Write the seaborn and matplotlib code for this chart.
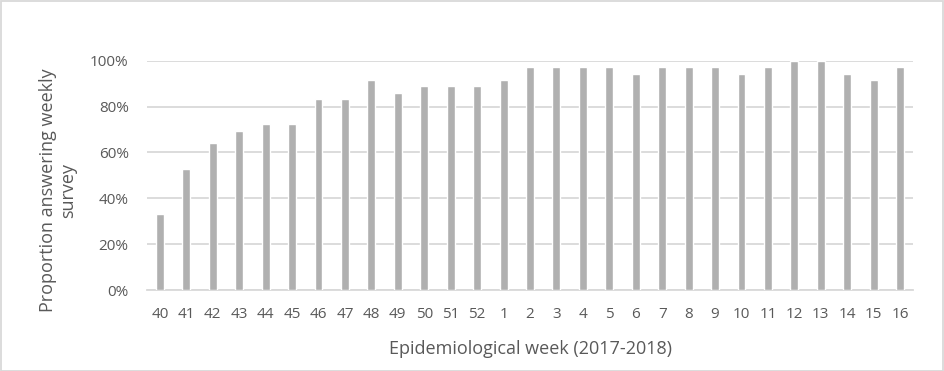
import matplotlib
matplotlib.use("Agg")
import matplotlib.pyplot as plt
import seaborn as sns
import pandas as pd
import numpy as np
from matplotlib.ticker import PercentFormatter, FixedLocator
from matplotlib.patches import Rectangle

weeks = ["40", "41", "42", "43", "44", "45", "46", "47", "48", "49", "50", "51", "52",
         "1", "2", "3", "4", "5", "6", "7", "8", "9", "10", "11", "12", "13", "14", "15", "16"]
proportion = [0.333, 0.528, 0.639, 0.694, 0.722, 0.722, 0.833, 0.833, 0.917, 0.861, 0.889, 0.889, 0.889,
              0.917, 0.972, 0.972, 0.972, 0.972, 0.944, 0.972, 0.972, 0.972, 0.944, 0.972, 1.0, 1.0, 0.944, 0.917, 0.972]
y_ticks = [0, 0.2, 0.4, 0.6, 0.8, 1.0]
x_label = "Epidemiological week (2017-2018)"
y_label = "Proportion answering weekly\nsurvey"

sns.set_theme(style="white")
plt.rcParams['font.family'] = ['Open Sans', 'DejaVu Sans']

text_color = "#595959"
grid_color = "#D9D9D9"
bar_color = "#B0B0B0"

df = pd.DataFrame({"week": weeks, "prop": proportion})

fig = plt.figure(figsize=(9.44, 3.71), dpi=100)
ax = fig.add_axes([146.7 / 944, 1 - 290 / 371, (913.3 - 146.7) / 944, (290 - 60.7) / 371])

sns.barplot(data=df, x="week", y="prop", order=weeks, color=bar_color, width=0.3,
            saturation=1, ax=ax, zorder=3)

ax.set_ylim(0, 1.0)
ax.set_xlim(-0.5, len(weeks) - 0.5)
ax.set_yticks(y_ticks)
ax.yaxis.set_major_formatter(PercentFormatter(1.0, decimals=0))
ax.yaxis.grid(True, color=grid_color, linewidth=1.3, zorder=0)
ax.set_axisbelow(True)

for s in ["top", "right", "left"]:
    ax.spines[s].set_visible(False)
ax.spines["bottom"].set_color(grid_color)
ax.spines["bottom"].set_linewidth(1.3)
ax.spines["bottom"].set_zorder(1)

ax.tick_params(axis="y", length=0, pad=13, labelsize=11, labelcolor=text_color)
ax.tick_params(axis="x", which="major", length=0, pad=12, labelsize=11, labelcolor=text_color)
ax.xaxis.set_minor_locator(FixedLocator(np.arange(-0.5, len(weeks), 1.0)))
ax.tick_params(axis="x", which="minor", length=5, width=1.3, color=grid_color, direction="out")

ax.set_xlabel("")
ax.set_ylabel("")

fig.text(530.5 / 944, 1 - 349 / 371, x_label, ha="center", va="center",
         fontsize=13, color=text_color)
fig.text(58 / 944, 1 - 190 / 371, y_label, ha="center", va="center", rotation=90,
         multialignment="center", fontsize=13, color=text_color, linespacing=1.1)

fig.patches.append(Rectangle((0.5 / 944, 0.5 / 371), 1 - 1.5 / 944, 1 - 1.5 / 371,
                             transform=fig.transFigure, fill=False,
                             edgecolor=grid_color, linewidth=1.3))

fig.savefig("out.png", dpi=100)
